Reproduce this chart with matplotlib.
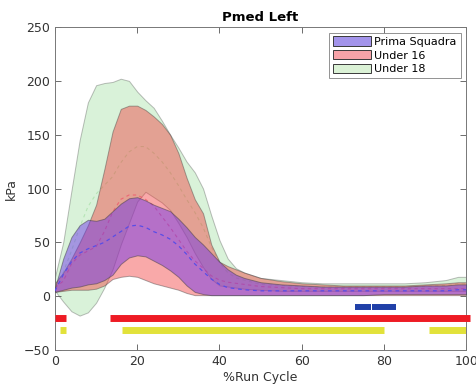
import matplotlib
matplotlib.use("Agg")
import matplotlib.pyplot as plt
from matplotlib.patches import Patch

x = [0, 2, 4, 6, 8, 10, 12, 14, 16, 18, 20, 22, 24, 26, 28, 30, 32, 34, 36, 38, 40,
     42, 44, 46, 50, 55, 60, 65, 70, 75, 80, 85, 90, 95, 98, 100]

u18_hi = [18, 50, 98, 145, 180, 196, 198, 199, 202, 200, 190, 182, 175, 163, 150, 138, 125, 115, 100, 75, 52,
          35, 26, 22, 17, 15, 13, 12, 12, 12, 12, 12, 13, 15, 18, 18]
u18_lo = [5, -5, -14, -18, -15, -6, 8, 25, 48, 68, 88, 97, 92, 87, 80, 68, 55, 40, 27, 16, 10,
          9, 8, 7, 6, 5, 5, 5, 5, 5, 5, 5, 5, 5, 5, 5]
u18_mean = [11, 22, 42, 64, 83, 95, 103, 111, 124, 134, 139, 139, 133, 125, 115, 103, 90, 78, 64, 46, 31,
            22, 17, 15, 11, 10, 9, 8.5, 8.5, 8.5, 8.5, 8.5, 9, 10, 11.5, 11.5]

u16_hi = [12, 22, 35, 50, 66, 85, 118, 153, 174, 177, 177, 173, 167, 160, 150, 133, 110, 90, 77, 48, 32,
          28, 25, 22, 17, 14, 12, 11, 10, 10, 10, 10, 11, 12, 13, 13]
u16_lo = [4, 5, 6, 6, 6, 7, 10, 16, 18, 19, 18, 15, 12, 10, 8, 6, 3, 1, 1, 1, 1,
          1, 1, 1, 1, 1, 1, 1, 1, 1, 1, 1, 1, 1, 1, 1]
u16_mean = [8, 14, 30, 38, 42, 46, 60, 78, 90, 94, 94, 90, 84, 74, 64, 53, 42, 33, 26, 19, 15,
            13, 12, 11, 9, 8, 7, 7, 7, 7, 7, 7, 7, 7, 7, 7]

ps_hi = [8, 35, 55, 66, 71, 70, 72, 79, 86, 91, 92, 89, 85, 82, 79, 72, 64, 55, 48, 40, 32,
         25, 20, 17, 13, 11, 10, 9, 9, 9, 9, 9, 10, 10, 11, 11]
ps_lo = [4, 6, 8, 9, 11, 12, 15, 20, 30, 36, 38, 37, 33, 29, 24, 18, 10, 4, 2, 1, 1,
         1, 1, 1, 1, 1, 1, 1, 1, 1, 2, 2, 2, 2, 2, 2]
ps_mean = [5, 20, 32, 40, 44, 47, 50, 55, 60, 65, 66, 64, 60, 57, 53, 47, 39, 30, 23, 16, 11,
           8, 7, 6, 5, 5, 5, 5, 5, 5, 5, 5, 5, 5, 6, 6]

# significance bars: (start, end) segments and their level
sig_ps = [(73, 76.8), (77.1, 83)]
sig_ps_level = -10
sig_u16 = [(0, 2.8), (13.3, 100.8)]
sig_u16_level = -20
sig_u18 = [(1.2, 2.8), (16.2, 80), (91, 100)]
sig_u18_level = -31

groups = ["Prima Squadra", "Under 16", "Under 18"]

fig = plt.figure(figsize=(4.76, 3.92), dpi=100)
ax = fig.add_axes([0.1155, 0.107, 0.864, 0.824])

edge = "#3a3a3a"
ax.fill_between(x, u18_lo, u18_hi, facecolor=(0.55, 0.85, 0.55), alpha=0.33,
                edgecolor=edge, linewidth=0.7, zorder=1)
ax.plot(x, u18_mean, color=(0.45, 0.8, 0.45), ls=(0, (3, 3)), lw=0.8, alpha=0.35, zorder=1.5)
ax.fill_between(x, u16_lo, u16_hi, facecolor=(0.95, 0.2, 0.2), alpha=0.42,
                edgecolor=edge, linewidth=0.7, zorder=2)
ax.plot(x, u16_mean, color=(0.95, 0.3, 0.4), ls=(0, (3, 3)), lw=0.8, alpha=0.7, zorder=2.5)
ax.fill_between(x, ps_lo, ps_hi, facecolor=(0.42, 0.2, 0.92), alpha=0.48,
                edgecolor=edge, linewidth=0.7, zorder=3)
ax.plot(x, ps_mean, color=(0.35, 0.3, 0.9), ls=(0, (3, 3)), lw=0.9, zorder=3.5)

for a, b in sig_ps:
    ax.plot([a, b], [sig_ps_level] * 2, color="#2040a8", lw=4.3, solid_capstyle="butt", zorder=4)
for a, b in sig_u16:
    ax.plot([a, b], [sig_u16_level] * 2, color="#ee1b24", lw=5.0, solid_capstyle="butt",
            zorder=4, clip_on=False)
for a, b in sig_u18:
    ax.plot([a, b], [sig_u18_level] * 2, color="#e2e23a", lw=5.0, solid_capstyle="butt", zorder=4)

ax.set_xlim(0, 100)
ax.set_ylim(-50, 250)
ax.set_xticks([0, 20, 40, 60, 80, 100])
ax.set_yticks([-50, 0, 50, 100, 150, 200, 250])
ax.tick_params(direction="in", top=True, right=True, length=4, width=0.6,
               colors="#555555", labelsize=9, labelcolor="#333333")
for s in ax.spines.values():
    s.set_color("#777777")
    s.set_linewidth(0.7)

ax.set_title("Pmed Left", fontsize=9.5, fontweight="bold", pad=4)
ax.set_xlabel("%Run Cycle", fontsize=9, color="#333333", labelpad=2)
ax.set_ylabel("kPa", fontsize=9, color="#333333", labelpad=4)

handles = [
    Patch(facecolor=(0.64, 0.58, 0.92), edgecolor=edge, linewidth=0.7),
    Patch(facecolor=(0.97, 0.64, 0.66), edgecolor=edge, linewidth=0.7),
    Patch(facecolor=(0.86, 0.95, 0.84), edgecolor=edge, linewidth=0.7),
]
leg = ax.legend(handles, groups, loc="upper right", fontsize=8, frameon=True, fancybox=False,
                edgecolor="#777777", handlelength=3.4, handleheight=0.9, borderpad=0.35,
                labelspacing=0.3, handletextpad=0.35, borderaxespad=0.5)
leg.get_frame().set_linewidth(0.7)

fig.savefig("out.png", dpi=100)
